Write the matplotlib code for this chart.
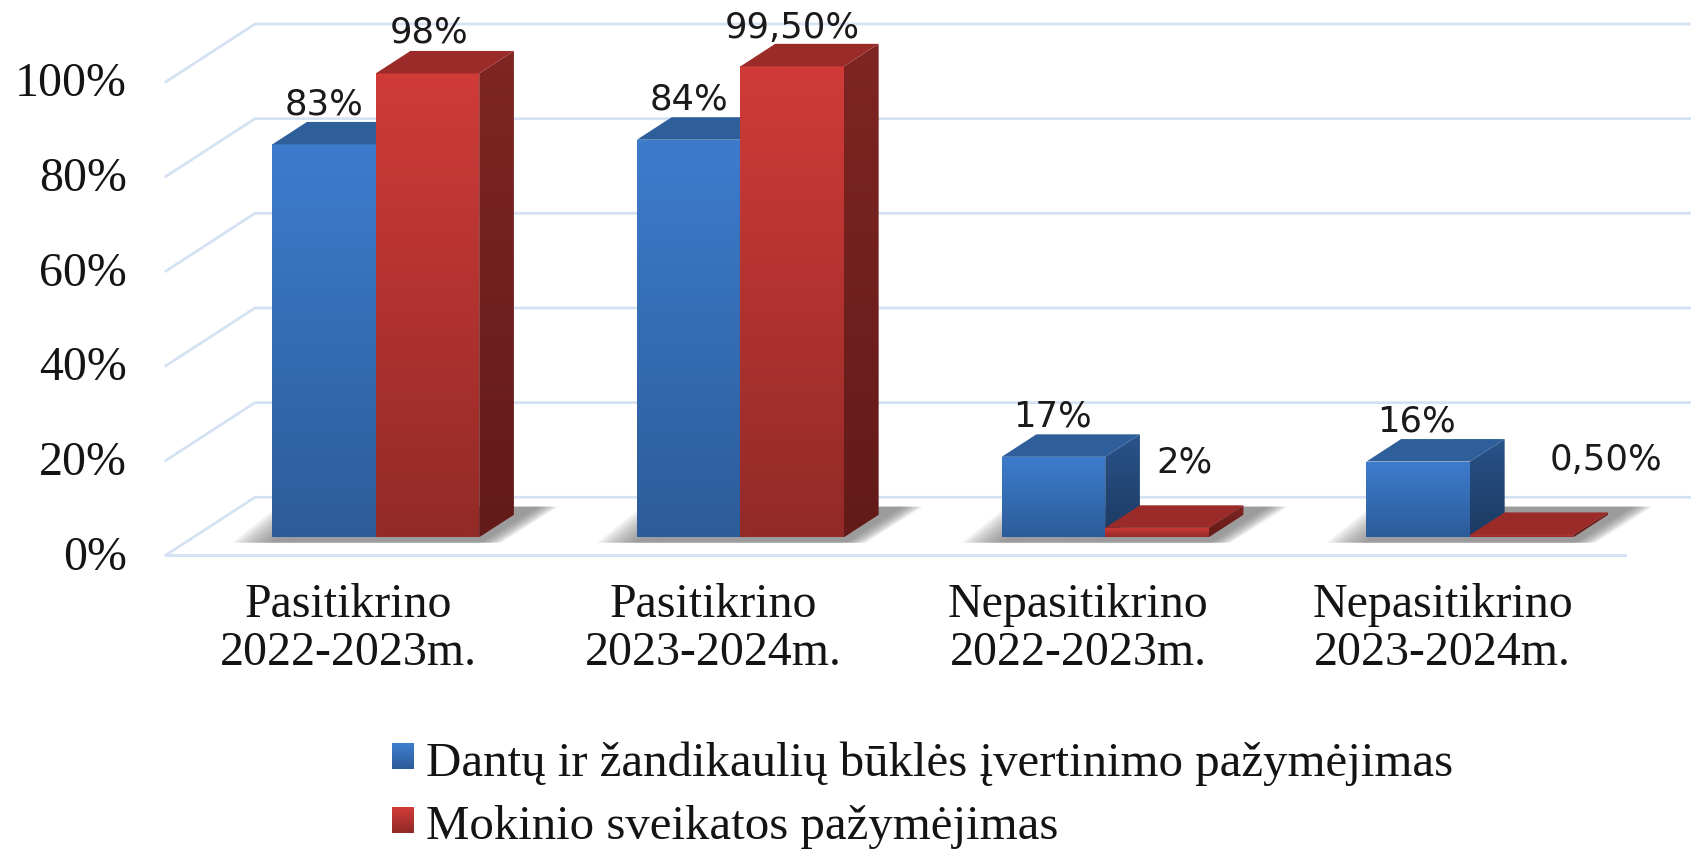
import numpy as np
import matplotlib
matplotlib.use("Agg")
import matplotlib.pyplot as plt
from matplotlib.patches import Polygon, Rectangle
from matplotlib.colors import to_rgb
from matplotlib.legend_handler import HandlerBase
from matplotlib.transforms import ScaledTranslation

categories = ["Pasitikrino\n2022-2023m.", "Pasitikrino\n2023-2024m.",
              "Nepasitikrino\n2022-2023m.", "Nepasitikrino\n2023-2024m."]
series_names = ["Dantų ir žandikaulių būklės įvertinimo pažymėjimas",
                "Mokinio sveikatos pažymėjimas"]
dental = [83, 84, 17, 16]
health = [98, 99.5, 2, 0.5]
dental_labels = ["83%", "84%", "17%", "16%"]
health_labels = ["98%", "99,50%", "2%", "0,50%"]
y_ticks = [0, 20, 40, 60, 80, 100]
y_tick_labels = ["0%", "20%", "40%", "60%", "80%", "100%"]

W, H = 1691, 849
PX_L, PX_R, PX_B, PX_T = 166, 1625, 555, 81.7
fig = plt.figure(figsize=(W / 100, H / 100), dpi=100, facecolor="white")
ax = fig.add_axes([PX_L / W, 1 - PX_B / H, (PX_R - PX_L) / W, (PX_B - PX_T) / H])
ux = (PX_R - PX_L) / 4      # px per category
uy = (PX_B - PX_T) / 100    # px per percent
DX, DY = 89 / ux, 57.7 / uy  # full floor depth in data units
BAR_W = 103.5 / ux
D0, D1 = 0.307, 0.307 + 0.39  # bar depth span as fraction of floor

GRID = "#D5E2F3"
BLUE = dict(front=("#3D7CCD", "#2D5C9A"), side=("#295389", "#1D3A63"), top="#2E5F9B")
RED = dict(front=("#D03B37", "#922A28"), side=("#7F2523", "#621B19"), top="#9B2B28")


def gradient(poly_pts, c_top, c_bot, z):
    pts = np.array(poly_pts)
    n = 64
    t = np.linspace(0, 1, n)[:, None, None]
    img = (1 - t) * np.array(to_rgb(c_top))[None, None, :] + t * np.array(to_rgb(c_bot))[None, None, :]
    im = ax.imshow(img, extent=(pts[:, 0].min(), pts[:, 0].max(), pts[:, 1].min(), pts[:, 1].max()),
                   aspect="auto", origin="upper", zorder=z, interpolation="bilinear")
    im.set_clip_path(Polygon(pts, closed=True, transform=ax.transData))
    im.set_clip_box(fig.bbox)


def bar3d(x0, v, style, z):
    x1 = x0 + BAR_W
    ox0, oy0 = D0 * DX, D0 * DY
    dx, dy = (D1 - D0) * DX, (D1 - D0) * DY
    fx = (x0 + ox0, x1 + ox0)
    base = oy0
    gradient([(fx[0], base), (fx[1], base), (fx[1], base + v), (fx[0], base + v)],
             *style["front"], z)
    gradient([(fx[1], base), (fx[1] + dx, base + dy), (fx[1] + dx, base + dy + v), (fx[1], base + v)],
             *style["side"], z)
    ax.add_patch(Polygon([(fx[0], base + v), (fx[1], base + v), (fx[1] + dx, base + v + dy),
                          (fx[0] + dx, base + v + dy)], closed=True, fc=style["top"], ec="none",
                         zorder=z, clip_on=False))


def shadow(x_center):
    # soft shadow on the floor beneath a pair of bars
    left = x_center - BAR_W
    right = x_center + BAR_W
    b = D0 * DY - 5.4 / uy
    t = D0 * DY + 30.6 / uy
    ox = D0 * DX
    steps = 12
    for i in range(steps):
        f = i / (steps - 1)
        grow_l = (40 - 38 * f) / ux
        grow_r = (22 - 20 * f) / ux
        lean = 45 / ux
        ax.add_patch(Polygon([(left + ox - grow_l, b), (right + ox + grow_r, b),
                              (right + ox + grow_r + lean + 12 / ux, t),
                              (left + ox - grow_l + lean, t)],
                             closed=True, fc="#707070", ec="none", alpha=0.085, zorder=2, clip_on=False))


# grid: back wall, side wall and floor
for v in y_ticks:
    ax.plot([0, DX, 4 + DX], [v, v + DY, v + DY], color=GRID, lw=2, zorder=1, clip_on=False,
            solid_joinstyle="miter")
ax.plot([0, 4], [0, 0], color=GRID, lw=2.2, zorder=1, clip_on=False)

centers = np.arange(len(categories)) + 0.5
for c in centers:
    shadow(c)
for i, c in enumerate(centers):
    bar3d(c - BAR_W, dental[i], BLUE, 3 + i)
    bar3d(c, health[i], RED, 3 + i + 0.5)

# data labels, offset in px from the centre of the bar's front top edge
dental_off = [(0, 17), (0, 18), (-1, 18), (-2, 18)]
health_off = [(2, 18), (0, 16), (28, 43), (84, 52)]
for i, c in enumerate(centers):
    fx = c + D0 * DX
    top = D0 * DY + (D1 - D0) * DY
    for x_c, v, lab, off in [(fx - BAR_W / 2, dental[i], dental_labels[i], dental_off[i]),
                             (fx + BAR_W / 2, health[i], health_labels[i], health_off[i])]:
        ax.annotate(lab, xy=(x_c, v + top), xytext=(off[0] * 0.72, off[1] * 0.72), textcoords="offset points",
                    ha="center", va="center", fontsize=25.5, family="DejaVu Sans",
                    color="#1a1a1a", zorder=20, annotation_clip=False)

ax.set_xlim(0, 4)
ax.set_ylim(0, 100)
for s in ax.spines.values():
    s.set_visible(False)
ax.patch.set_visible(False)
ax.set_xticks(centers)
ax.set_xticklabels(categories, family="Liberation Serif", fontsize=34.5, linespacing=1.13, color="#141414")
ax.set_yticks(y_ticks)
ax.set_yticklabels(y_tick_labels, family="Liberation Serif", fontsize=34.5, color="#141414")
ax.tick_params(axis="both", length=0)
ax.tick_params(axis="x", pad=20)
ax.tick_params(axis="y", pad=28)
lift = ScaledTranslation(0, 2.5 / 100, fig.dpi_scale_trans)
for lab in ax.get_yticklabels():
    lab.set_transform(lab.get_transform() + lift)


class GradHandler(HandlerBase):
    def __init__(self, c_top, c_bot):
        super().__init__()
        self.c = (np.array(to_rgb(c_top)), np.array(to_rgb(c_bot)))

    def create_artists(self, legend, orig, xd, yd, w, h, fs, trans):
        n = 16
        out = []
        for k in range(n):
            t = k / (n - 1)
            col = (1 - t) * self.c[0] + t * self.c[1]
            out.append(Rectangle((-xd, -yd + h * (n - 1 - k) / n + 1), w, h / n + 0.4, fc=col, ec="none",
                                 transform=trans))
        return out


h1, h2 = Rectangle((0, 0), 1, 1), Rectangle((0, 0), 1, 1)
leg = fig.legend([h1, h2], series_names, loc="upper left", bbox_to_anchor=(392 / W, 1 - 741 / H),
                 frameon=False, prop={"family": "Liberation Serif", "size": 35.2},
                 borderpad=0, borderaxespad=0, handlelength=0.45, handleheight=0.42, handletextpad=0.24,
                 labelspacing=0.40,
                 handler_map={h1: GradHandler(*BLUE["front"]), h2: GradHandler(*RED["front"])})
for t in leg.get_texts():
    t.set_color("#141414")

fig.savefig("out.png", dpi=100, facecolor="white")
